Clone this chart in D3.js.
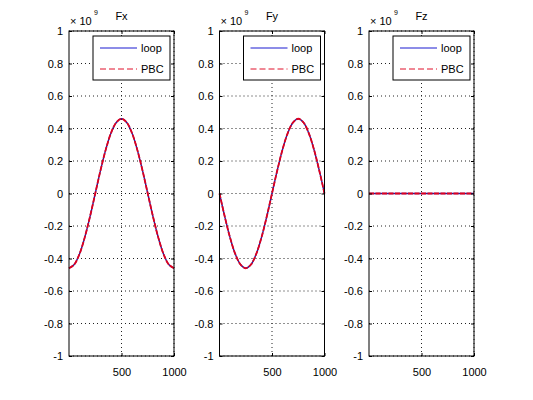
<!DOCTYPE html>
<html><head><meta charset="utf-8">
<script src="https://cdn.jsdelivr.net/npm/d3@7"></script>
<style>
html,body{margin:0;padding:0;background:#fff;}
svg{display:block;}
text{font-family:"Liberation Sans",Arial,Helvetica,sans-serif;fill:#000;}
</style></head>
<body>
<svg id="c" width="533" height="400"></svg>
<script>
// Data (values in units of 1e9)
const xs = [0,50,100,150,200,250,300,350,400,450,500,550,600,650,700,750,800,850,900,950,1000];
const fxLoop = [-0.46,-0.437,-0.372,-0.27,-0.142,0,0.142,0.27,0.372,0.437,0.46,0.437,0.372,0.27,0.142,0,-0.142,-0.27,-0.372,-0.437,-0.46];
const fxPBC  = [-0.46,-0.437,-0.372,-0.27,-0.142,0,0.142,0.27,0.372,0.437,0.46,0.437,0.372,0.27,0.142,0,-0.142,-0.27,-0.372,-0.437,-0.46];
const fyLoop = [0,-0.142,-0.27,-0.372,-0.437,-0.46,-0.437,-0.372,-0.27,-0.142,0,0.142,0.27,0.372,0.437,0.46,0.437,0.372,0.27,0.142,0];
const fyPBC  = [0,-0.142,-0.27,-0.372,-0.437,-0.46,-0.437,-0.372,-0.27,-0.142,0,0.142,0.27,0.372,0.437,0.46,0.437,0.372,0.27,0.142,0];
const fzLoop = [0,0,0,0,0,0,0,0,0,0,0,0,0,0,0,0,0,0,0,0,0];
const fzPBC  = [0,0,0,0,0,0,0,0,0,0,0,0,0,0,0,0,0,0,0,0,0];
const titles = ["Fx","Fy","Fz"];
const seriesNames = ["loop","PBC"];
const yTicks = [-1,-0.8,-0.6,-0.4,-0.2,0,0.2,0.4,0.6,0.8,1];
const yTickLabels = ["-1","-0.8","-0.6","-0.4","-0.2","0","0.2","0.4","0.6","0.8","1"];
const xTicks = [500,1000];
const xTickLabels = ["500","1000"];

(function(){
const panels = [
  {title:titles[0], loop:fxLoop, pbc:fxPBC},
  {title:titles[1], loop:fyLoop, pbc:fyPBC},
  {title:titles[2], loop:fzLoop, pbc:fzPBC}
];

const svg = d3.select("#c");
const yTop = 31, yBot = 356, w = 105;
const lefts = [69, 219.5, 369];
const y = d3.scaleLinear().domain([-1,1]).range([yBot, yTop]);

panels.forEach((p, i) => {
  const L = lefts[i], R = L + w;
  const x = d3.scaleLinear().domain([0,1000]).range([L, R]);
  const g = svg.append("g");

  // grid
  g.selectAll(".gy").data(yTicks).join("line")
    .attr("x1", L).attr("x2", R)
    .attr("y1", d => y(d)).attr("y2", d => y(d))
    .attr("stroke", "#222").attr("stroke-width", 1)
    .attr("stroke-dasharray", "1,3");
  g.selectAll(".gx").data(xTicks).join("line")
    .attr("x1", d => x(d)).attr("x2", d => x(d))
    .attr("y1", yTop).attr("y2", yBot)
    .attr("stroke", "#222").attr("stroke-width", 1)
    .attr("stroke-dasharray", "1,3");

  // data lines
  const line = d3.line().x((d, k) => x(xs[k])).y(d => y(d)).curve(d3.curveCatmullRom);
  g.append("path").datum(p.loop).attr("d", line)
    .attr("fill", "none").attr("stroke", "#2a1a9a").attr("stroke-width", 1.4);
  g.append("path").datum(p.pbc).attr("d", line)
    .attr("fill", "none").attr("stroke", "#e0001e").attr("stroke-width", 1.8)
    .attr("stroke-dasharray", "5,1.5");

  // axes (MATLAB-style ticks inward)
  const axL = d3.axisLeft(y).tickValues(yTicks).tickFormat((d, k) => yTickLabels[k]).tickSize(-3).tickPadding(6);
  const axR = d3.axisRight(y).tickValues(yTicks).tickFormat("").tickSize(-3);
  const axB = d3.axisBottom(x).tickValues(xTicks).tickFormat((d, k) => xTickLabels[k]).tickSize(-3).tickPadding(12);
  const axT = d3.axisTop(x).tickValues(xTicks).tickFormat("").tickSize(-3);
  [
    [axL, `translate(${L},0)`],
    [axR, `translate(${R},0)`],
    [axB, `translate(0,${yBot})`],
    [axT, `translate(0,${yTop})`]
  ].forEach(([ax, tr]) => {
    const a = g.append("g").attr("transform", tr).call(ax);
    a.select(".domain").remove();
    a.selectAll("line").attr("stroke", "#000");
    a.selectAll("text").attr("font-size", 11).attr("font-family", '"Liberation Sans",Arial,sans-serif');
  });
  g.append("rect").attr("x", L).attr("y", yTop).attr("width", w).attr("height", yBot - yTop)
    .attr("fill", "none").attr("stroke", "#000").attr("stroke-width", 1);

  // exponent label
  g.append("text").attr("x", L + 1).attr("y", 25).attr("font-size", 11).text("\u00d7 10");
  g.append("text").attr("x", L + 25).attr("y", 15).attr("font-size", 7).text("9");

  // title
  g.append("text").attr("x", (L + R) / 2).attr("y", 20).attr("text-anchor", "middle")
    .attr("font-size", 11).text(p.title);

  // legend
  const lx = R - 81, ly = yTop + 5, lw = 77, lh = 44;
  g.append("rect").attr("x", lx).attr("y", ly).attr("width", lw).attr("height", lh)
    .attr("fill", "#fff").attr("stroke", "#000").attr("stroke-width", 1);
  g.append("line").attr("x1", lx + 7).attr("x2", lx + 44).attr("y1", ly + 12).attr("y2", ly + 12)
    .attr("stroke", "#1a1ad0").attr("stroke-width", 1);
  g.append("line").attr("x1", lx + 7).attr("x2", lx + 44).attr("y1", ly + 33).attr("y2", ly + 33)
    .attr("stroke", "#e0102a").attr("stroke-width", 1).attr("stroke-dasharray", "6,3");
  g.append("text").attr("x", lx + 48).attr("y", ly + 16).attr("font-size", 11).text(seriesNames[0]);
  g.append("text").attr("x", lx + 48).attr("y", ly + 37).attr("font-size", 11).text(seriesNames[1]);
});
})();
</script>
</body></html>
